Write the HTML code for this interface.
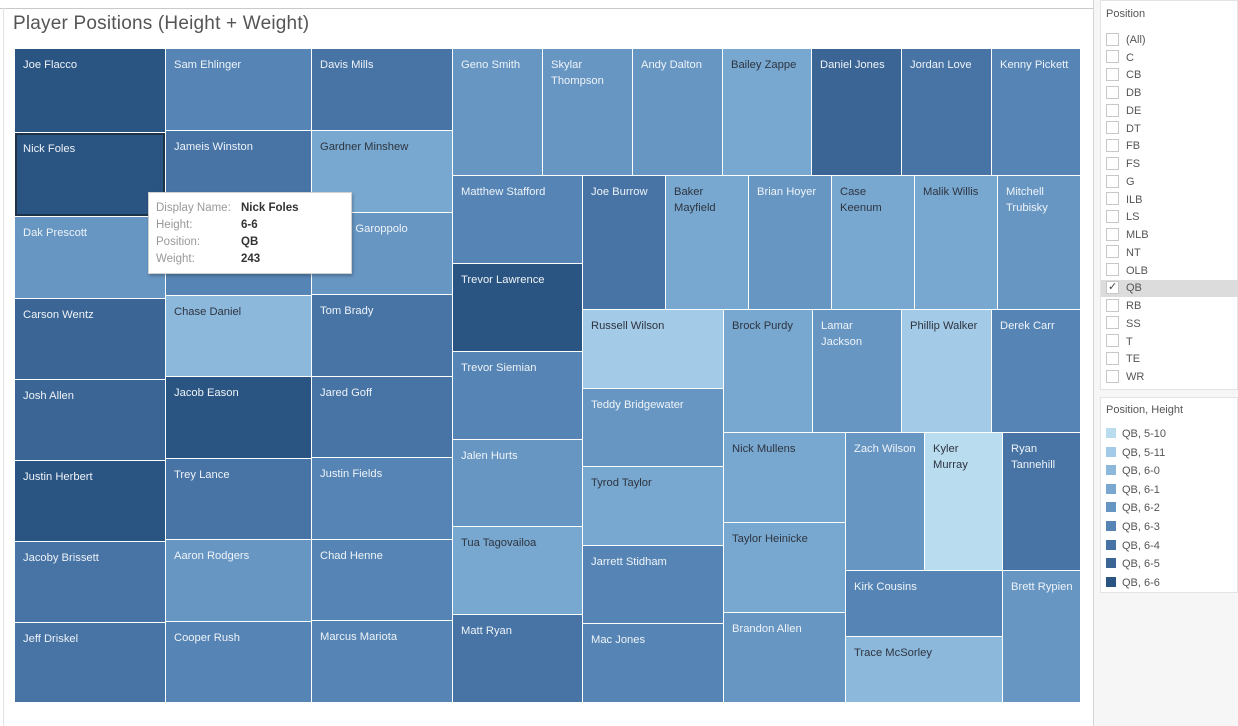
<!DOCTYPE html>
<html><head><meta charset="utf-8">
<style>
body{margin:0;width:1238px;height:726px;overflow:hidden;background:#fff;font-family:"Liberation Sans",sans-serif;position:relative}
.cell{position:absolute;box-sizing:border-box;font-size:11.2px;line-height:16px;padding:8px 6px 0 8px;overflow:hidden;letter-spacing:0}
.abs{position:absolute}
.fi{position:absolute;left:1106px;font-size:11px;color:#555;height:16px;line-height:16px}
.cb{display:inline-block;width:11px;height:11px;border:1px solid #c8c8c8;background:#fff;vertical-align:middle;margin-right:7px;position:relative;top:-1px}
.li{position:absolute;left:1106px;font-size:11px;color:#555;line-height:14px}
.sw{display:inline-block;width:10px;height:10px;vertical-align:middle;margin-right:6px;position:relative;top:-1px}
</style></head><body>
<div class="abs" style="left:0;top:8px;width:1093px;height:1px;background:#c9c9c9"></div>
<div class="abs" style="left:3px;top:8px;width:1px;height:718px;background:#e2e2e2"></div>
<div class="abs" style="left:1093px;top:0;width:1px;height:726px;background:#d6d6d6"></div>
<div class="abs" style="left:1094px;top:0;width:144px;height:726px;background:#f6f6f6"></div>
<div class="abs" style="left:13px;top:13px;font-size:19px;color:#555;letter-spacing:0.2px">Player Positions (Height + Weight)</div>
<div id="tm"></div>

<div class="abs" style="left:1100px;top:0;width:138px;height:390px;background:#fff;border:1px solid #e3e3e3;box-sizing:border-box"></div>
<div class="abs" style="left:1106px;top:8px;font-size:11px;color:#555">Position</div>
<div class="abs" style="left:1101px;top:280px;width:137px;height:17px;background:#dcdcdc"></div>
<div id="filters"></div>

<div class="abs" style="left:1100px;top:397px;width:138px;height:196px;background:#fff;border:1px solid #e3e3e3;box-sizing:border-box"></div>
<div class="abs" style="left:1106px;top:404px;font-size:11px;color:#555">Position, Height</div>
<div id="legend"></div>

<div class="abs" style="left:148px;top:192px;width:204px;height:82px;background:#fff;border:1px solid #cfcfcf;box-shadow:1px 2px 3px rgba(0,0,0,0.25);box-sizing:border-box;font-size:11.5px;line-height:17px;padding:7px 0 0 7px;color:#999">
<div><span style="display:inline-block;width:85px">Display Name:</span><b style="color:#333">Nick Foles</b></div>
<div><span style="display:inline-block;width:85px">Height:</span><b style="color:#333">6-6</b></div>
<div><span style="display:inline-block;width:85px">Position:</span><b style="color:#333">QB</b></div>
<div><span style="display:inline-block;width:85px">Weight:</span><b style="color:#333">243</b></div>
</div>

<script>
const players = ["Joe Flacco","Nick Foles","Dak Prescott","Carson Wentz","Josh Allen","Justin Herbert","Jacoby Brissett","Jeff Driskel",
"Sam Ehlinger","Jameis Winston","Kyle Allen","Chase Daniel","Jacob Eason","Trey Lance","Aaron Rodgers","Cooper Rush",
"Davis Mills","Gardner Minshew","Jimmy Garoppolo","Tom Brady","Jared Goff","Justin Fields","Chad Henne","Marcus Mariota",
"Geno Smith","Skylar Thompson","Andy Dalton","Bailey Zappe","Daniel Jones","Jordan Love","Kenny Pickett",
"Matthew Stafford","Trevor Lawrence","Trevor Siemian","Jalen Hurts","Tua Tagovailoa","Matt Ryan",
"Joe Burrow","Baker Mayfield","Brian Hoyer","Case Keenum","Malik Willis","Mitchell Trubisky",
"Russell Wilson","Teddy Bridgewater","Tyrod Taylor","Jarrett Stidham","Mac Jones",
"Brock Purdy","Lamar Jackson","Phillip Walker","Derek Carr",
"Nick Mullens","Taylor Heinicke","Brandon Allen",
"Zach Wilson","Kyler Murray","Ryan Tannehill",
"Kirk Cousins","Trace McSorley","Brett Rypien"];
const weights = [246,243,240,238,237,236,235,234, 232,231,231,230,230,229,229,229, 224,223,223,222,222,222,222,222,
221,220,220,220,220,220,219, 220,220,220,220,220,220, 215,215,215,215,214,214, 214,214,214,214,214,
212,212,212,212, 212,212,212, 210,208,208, 201,199, 199];
const heights = ["6-6","6-6","6-2","6-5","6-5","6-6","6-4","6-4", "6-3","6-4","6-3","6-0","6-6","6-4","6-2","6-3",
"6-4","6-1","6-2","6-4","6-4","6-3","6-3","6-3", "6-2","6-2","6-2","6-1","6-5","6-4","6-3",
"6-3","6-6","6-3","6-2","6-1","6-4", "6-4","6-1","6-2","6-1","6-1","6-2",
"5-11","6-2","6-1","6-3","6-3", "6-1","6-2","5-11","6-3", "6-1","6-1","6-2", "6-2","5-10","6-4", "6-3","6-0","6-2"];
const heightCats = ["5-10","5-11","6-0","6-1","6-2","6-3","6-4","6-5","6-6"];
const palette = ["#b9dcef","#a3cae6","#8cb8dc","#78a8cf","#6796c3","#5685b5","#4773a5","#3b6594","#2a5482"];
// strip structure of the treemap (item counts and direction)
const stripCounts = [8,8,8,7,6,6,5,4,3,3,2,1];
const stripDirs = ["col","col","col","row","col","row","col","row","col","row","col","col"];
const positions = ["(All)","C","CB","DB","DE","DT","FB","FS","G","ILB","LS","MLB","NT","OLB","QB","RB","SS","T","TE","WR"];

const X0=15,Y0=49,W=1066,H=654;
const tm=document.getElementById('tm');
const total=weights.reduce((a,b)=>a+b,0);
const scale=(W*H)/total;
let rx=X0,ry=Y0,rw=W,rh=H,idx=0;
stripCounts.forEach((n,s)=>{
  const items=[];for(let k=0;k<n;k++)items.push(idx+k);
  const sum=items.reduce((a,i)=>a+weights[i],0);
  const area=sum*scale;
  if(stripDirs[s]==="col"){
    const sw=area/rh;let cy=ry;
    items.forEach(i=>{const h=weights[i]/sum*rh;draw(i,rx,cy,sw,h);cy+=h;});
    rx+=sw;rw-=sw;
  }else{
    const sh=area/rw;let cx=rx;
    items.forEach(i=>{const w=weights[i]/sum*rw;draw(i,cx,ry,w,sh);cx+=w;});
    ry+=sh;rh-=sh;
  }
  idx+=n;
});
function draw(i,x,y,w,h){
  const d=document.createElement('div');
  
  
  d.className='cell';
  const ci=heightCats.indexOf(heights[i]);
  d.style.left=Math.round(x)+'px';d.style.top=Math.round(y)+'px';
  d.style.width=(Math.round(x+w)-Math.round(x))+'px';d.style.height=(Math.round(y+h)-Math.round(y))+'px';
  d.style.background=palette[ci];
  d.style.borderRight='1px solid #fff';d.style.borderBottom='1px solid #fff';
  d.style.color=ci<=3?'#2e3440':'#eef3f8';
  if(players[i]==="Nick Foles"){d.style.boxShadow='inset 0 0 0 2px #1f3348';}
  d.textContent=players[i];
  tm.appendChild(d);
}
const fl=document.getElementById('filters');
positions.forEach((p,k)=>{
  const d=document.createElement('div');
  
  
  d.className='fi';d.style.top=(32+k*17.74)+'px';
  d.innerHTML='<span class="cb">'+(p==="QB"?'<span style="position:absolute;left:1px;top:-3px;font-size:11px;color:#444">✓</span>':'')+'</span>'+p;
  fl.appendChild(d);
});
const lg=document.getElementById('legend');
heightCats.forEach((h,k)=>{
  const d=document.createElement('div');
  
  
  d.className='li';d.style.top=(427+k*18.6)+'px';
  d.innerHTML='<span class="sw" style="background:'+palette[k]+'"></span>QB, '+h;
  lg.appendChild(d);
});
</script>
</body></html>
